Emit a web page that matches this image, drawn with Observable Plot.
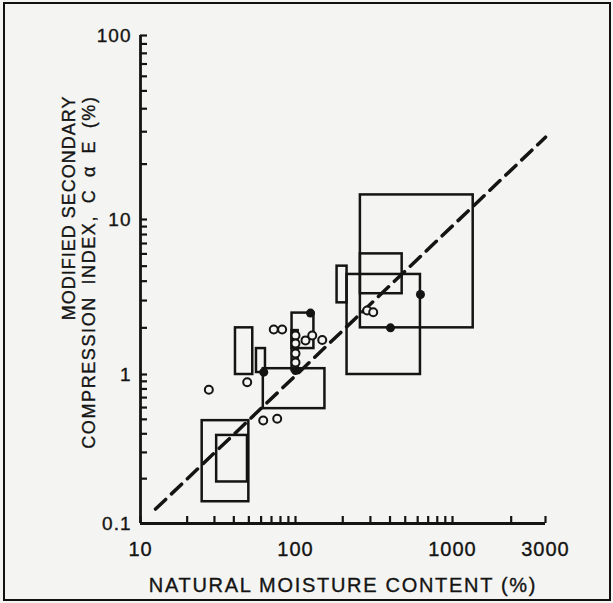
<!DOCTYPE html>
<html><head><meta charset="utf-8">
<script src="https://cdn.jsdelivr.net/npm/d3@7"></script>
<script src="https://cdn.jsdelivr.net/npm/@observablehq/plot@0.6"></script>
<style>
html,body{margin:0;padding:0;background:#f4f4f2;}
#wrap{position:relative;width:613px;height:603px;overflow:hidden;}
#frame{position:absolute;left:3px;top:2px;right:2px;bottom:2px;border:2px solid #111;pointer-events:none;}
svg text{letter-spacing:1px;stroke:#141414;stroke-width:0.35px;}
svg .xtitle text{letter-spacing:1.7px;}
svg .ytitle2 text{letter-spacing:1.6px;word-spacing:5px;}
</style></head><body><div id="wrap"><div id="frame"></div></div>
<script>
// Axis tick values
const xTickValues = [10, 100, 1000, 3000];
const yTickValues = [0.1, 1, 10, 100];
const xMinorTicks = [20,30,40,50,60,70,80,90,200,300,400,500,600,700,800,900,2000];
const yMinorTicks = [0.2,0.3,0.4,0.5,0.6,0.7,0.8,0.9,2,3,4,5,6,7,8,9,20,30,40,50,60,70,80,90];

// Rectangles (ranges): moisture content x1..x2, index y1..y2
const boxX1 = [25, 31, 41, 56, 62, 95, 95, 259, 259, 213, 184];
const boxX2 = [50, 49, 53, 64, 154, 131, 104, 1277, 478, 625, 213];
const boxY1 = [0.14, 0.19, 1.0, 1.03, 0.59, 1.47, 1.06, 2.0, 3.32, 1.0, 2.9];
const boxY2 = [0.49, 0.39, 2.0, 1.47, 1.09, 2.49, 1.92, 13.6, 6.0, 4.42, 5.0];

// Open circles
const openX = [27.6, 48.8, 61.9, 76.2, 72.4, 82.0, 115.8, 127.8, 148, 100, 100, 100, 100, 286, 312.6];
const openY = [0.79, 0.888, 0.491, 0.505, 1.95, 1.95, 1.66, 1.785, 1.67, 1.785, 1.585, 1.366, 1.195, 2.59, 2.52];

// Filled dots
const filledX = [62.4, 100, 625, 402.7, 124.6];
const filledY = [1.035, 1.06, 3.28, 2.0, 2.49];

// Dashed trend line
const trendX = [12.5, 3000];
const trendY = [0.125, 28];

const xTitle = "NATURAL MOISTURE CONTENT (%)";
const yTitle1 = "MODIFIED SECONDARY";
const yTitle2 = "COMPRESSION INDEX, C \u03B1 E (%)";

const boxes = boxX1.map((d, i) => ({x1: d, x2: boxX2[i], y1: boxY1[i], y2: boxY2[i]}));
const openPts = openX.map((d, i) => ({x: d, y: openY[i]}));
const filledPts = filledX.map((d, i) => ({x: d, y: filledY[i]}));
const trend = trendX.map((d, i) => ({x: d, y: trendY[i]}));

const ink = "#141414";
const chart = Plot.plot({
  width: 613, height: 603,
  marginLeft: 140, marginRight: 68, marginTop: 35, marginBottom: 80,
  style: {background: "transparent", fontFamily: "'Liberation Sans', Arial, sans-serif", color: ink},
  x: {type: "log", domain: xTickValues, range: [140, 295, 452, 545], label: null},
  y: {type: "log", domain: yTickValues, range: [523, 374, 219, 35], label: null},
  marks: [
    Plot.ruleX([xTickValues[0]], {y1: yTickValues[0], y2: yTickValues[yTickValues.length-1], stroke: ink, strokeWidth: 2.8}),
    Plot.ruleY([yTickValues[0]], {x1: xTickValues[0], x2: xTickValues[xTickValues.length-1], stroke: ink, strokeWidth: 2.8}),
    Plot.axisY({ticks: yMinorTicks.concat(yTickValues), anchor: "left", tickSize: 7, dx: 7, tickFormat: () => "", stroke: ink, strokeWidth: 2.2, label: null}),
    Plot.axisY({ticks: yTickValues, anchor: "left", tickSize: 0, tickPadding: 9, tickFormat: d => String(d), fontSize: 19, fill: ink, label: null}),
    Plot.axisX({ticks: xMinorTicks.concat(xTickValues), anchor: "bottom", tickSize: 7, dy: -7, tickFormat: () => "", stroke: ink, strokeWidth: 2.2, label: null}),
    Plot.axisX({ticks: xTickValues, anchor: "bottom", tickSize: 0, tickPadding: 18, tickFormat: d => String(d), fontSize: 20, fill: ink, label: null}),
    Plot.rect(boxes, {x1: "x1", x2: "x2", y1: "y1", y2: "y2", fill: "none", stroke: ink, strokeWidth: 2.5}),
    Plot.line(trend, {x: "x", y: "y", stroke: ink, strokeDasharray: "14,8", strokeWidth: 3.5, strokeLinecap: "round"}),
    Plot.dot(openPts, {x: "x", y: "y", r: 4, stroke: ink, strokeWidth: 2, fill: "#f4f4f2"}),
    Plot.dot(filledPts, {x: "x", y: "y", r: 4.5, fill: ink}),
    Plot.text([xTitle], {frameAnchor: "bottom", dy: 68, fontSize: 20, fill: ink, className: "xtitle"}),
    Plot.text([yTitle1], {frameAnchor: "top-left", rotate: -90, textAnchor: "end", dx: -78, dy: 60, fontSize: 18, fill: ink}),
    Plot.text([yTitle2], {frameAnchor: "top-left", rotate: -90, textAnchor: "end", dx: -58, dy: 60, fontSize: 18, fill: ink, className: "ytitle2"})
  ]
});
document.getElementById("wrap").insertBefore(chart, document.getElementById("frame"));
</script></body></html>
